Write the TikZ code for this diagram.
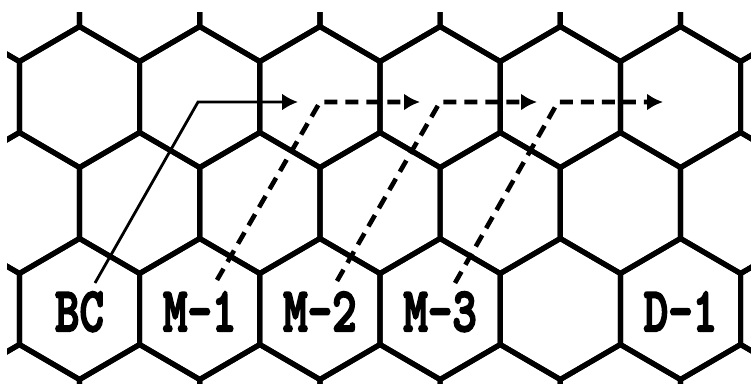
\documentclass[tikz,border=0pt]{standalone}
\usepackage{fontspec}
\newfontfamily\lblfont[FakeBold=3.5]{lmmonolt10-bold.otf}
\usetikzlibrary{arrows.meta}
\begin{document}
\begin{tikzpicture}[x=1pt,y=-1pt,
  hexline/.style={line width=5.2pt, line join=miter},
  lbl/.style={font=\lblfont\fontsize{63}{63}\selectfont, inner sep=0pt, anchor=base},
  solidarrow/.style={line width=2.8pt, -{Latex[length=16pt,width=17pt]}},
  dasharrow/.style={line width=4.6pt, dash pattern=on 13pt off 8pt, -{Latex[length=16pt,width=17pt]}}]
\fill[white] (0,0) rectangle (751,383);
\useasboundingbox (0,0) rectangle (751,383);
\begin{scope}
\clip (7,12) rectangle (751,383);
\foreach \r in {-1,...,3} {
  \foreach \k in {-1,...,7} {
    \pgfmathsetmacro\cx{79.5+120.2*\k-mod(\r+2,2)*60.1}
    \pgfmathsetmacro\cy{97+106*\r}
    \draw[hexline] (\cx,\cy-70.5) -- (\cx+60.1,\cy-35.5) -- (\cx+60.1,\cy+35.5)
      -- (\cx,\cy+70.5) -- (\cx-60.1,\cy+35.5) -- (\cx-60.1,\cy-35.5) -- cycle;
  }
}
\end{scope}
% labels
\node[lbl] (bc) at (79.5,331) {\scalebox{0.74}[1]{BC}};
\node[lbl] (m1) at (199.7,331) {\scalebox{0.74}[1]{M-1}};
\node[lbl] (m2) at (319.9,331) {\scalebox{0.74}[1]{M-2}};
\node[lbl] (m3) at (440.1,331) {\scalebox{0.74}[1]{M-3}};
\node[lbl] (d1) at (680.5,331) {\scalebox{0.74}[1]{D-1}};
% connector points
\coordinate (s0) at (95,283);
\coordinate (c0) at (198,102);
\coordinate (t0) at (298,102);
\coordinate (s1) at (217,280);
\coordinate (c1) at (320,102);
\coordinate (t1) at (420,102);
\coordinate (s2) at (337,281);
\coordinate (c2) at (440,102);
\coordinate (t2) at (537,102);
\coordinate (s3) at (455,283);
\coordinate (c3) at (558,102);
\coordinate (t3) at (663,102);
\draw[solidarrow] (s0) -- (c0) -- (t0);
\draw[dasharrow] (s1) -- (c1) -- (t1);
\draw[dasharrow] (s2) -- (c2) -- (t2);
\draw[dasharrow] (s3) -- (c3) -- (t3);
\end{tikzpicture}
\end{document}
